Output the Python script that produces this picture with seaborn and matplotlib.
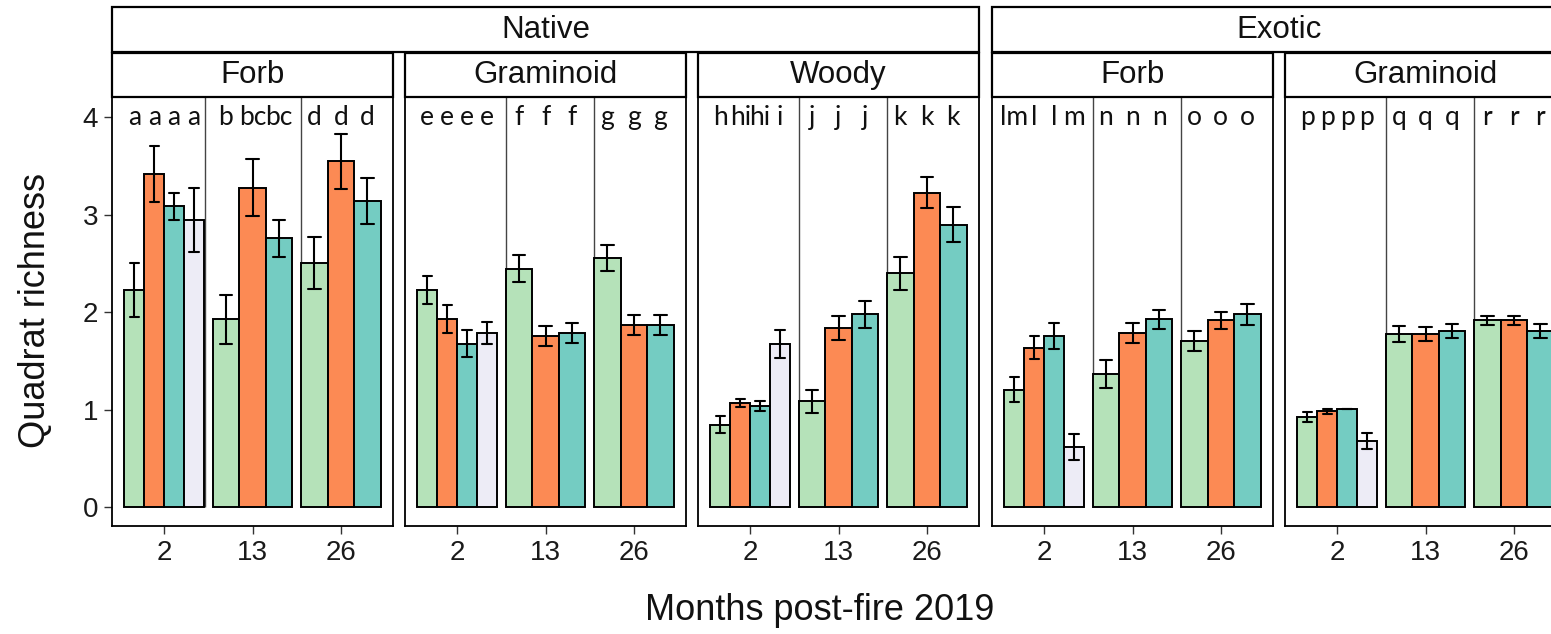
import numpy as np
import pandas as pd
import matplotlib
matplotlib.use("Agg")
import matplotlib.pyplot as plt
from matplotlib.patches import Rectangle
import seaborn as sns

sns.set_theme(style="white")
plt.rcParams['font.family'] = ['Liberation Sans', 'DejaVu Sans']

# ---------------- data ----------------
months = ["2", "13", "26"]
treatments = ["Trt A", "Trt B", "Trt C", "Trt D"]
colors = ["#B5E2B9", "#FC8A54", "#74CCC2", "#EDECF6"]

origins = ["Native", "Exotic"]
panel_origin = ["Native", "Native", "Native", "Exotic", "Exotic"]
panel_form = ["Forb", "Graminoid", "Woody", "Forb", "Graminoid"]

native_forb_mean = [[2.23, 3.42, 3.09, 2.95], [1.93, 3.28, 2.76], [2.51, 3.55, 3.14]]
native_forb_se = [[0.28, 0.285, 0.14, 0.33], [0.25, 0.29, 0.19], [0.265, 0.285, 0.235]]
native_forb_letters = [["a", "a", "a", "a"], ["b", "bc", "bc"], ["d", "d", "d"]]

native_gram_mean = [[2.23, 1.93, 1.68, 1.79], [2.45, 1.76, 1.79], [2.56, 1.87, 1.87]]
native_gram_se = [[0.145, 0.145, 0.14, 0.11], [0.135, 0.105, 0.10], [0.13, 0.105, 0.10]]
native_gram_letters = [["e", "e", "e", "e"], ["f", "f", "f"], ["g", "g", "g"]]

native_woody_mean = [[0.85, 1.07, 1.04, 1.68], [1.09, 1.84, 1.98], [2.40, 3.23, 2.90]]
native_woody_se = [[0.09, 0.04, 0.05, 0.145], [0.12, 0.125, 0.14], [0.17, 0.16, 0.18]]
native_woody_letters = [["h", "hi", "hi", "i"], ["j", "j", "j"], ["k", "k", "k"]]

exotic_forb_mean = [[1.21, 1.64, 1.76, 0.62], [1.37, 1.79, 1.93], [1.71, 1.92, 1.98]]
exotic_forb_se = [[0.13, 0.115, 0.13, 0.13], [0.14, 0.10, 0.10], [0.105, 0.085, 0.11]]
exotic_forb_letters = [["lm", "l", "l", "m"], ["n", "n", "n"], ["o", "o", "o"]]

exotic_gram_mean = [[0.93, 0.985, 1.01, 0.68], [1.78, 1.78, 1.81], [1.92, 1.92, 1.81]]
exotic_gram_se = [[0.05, 0.025, 0.0, 0.08], [0.085, 0.07, 0.07], [0.045, 0.045, 0.075]]
exotic_gram_letters = [["p", "p", "p", "p"], ["q", "q", "q"], ["r", "r", "r"]]

panel_means = [native_forb_mean, native_gram_mean, native_woody_mean, exotic_forb_mean, exotic_gram_mean]
panel_ses = [native_forb_se, native_gram_se, native_woody_se, exotic_forb_se, exotic_gram_se]
panel_letters = [native_forb_letters, native_gram_letters, native_woody_letters,
                 exotic_forb_letters, exotic_gram_letters]

yticks = [0, 1, 2, 3, 4]

# ---------------- figure ----------------
W, H = 1551, 634
fig = plt.figure(figsize=(W / 100, H / 100), dpi=100)

panel_left_px = [112, 405, 698, 992, 1285]
panel_w_px = 281
top_px, bot_px = 97, 526
ax_bottom = (H - bot_px) / H
ax_height = (bot_px - top_px) / H

palette = dict(zip(treatments, colors))
group_w = 0.9
sep_pos = [[0.46, 1.55], [0.55, 1.55], [0.55, 1.55], [0.55, 1.55], [0.55, 1.55]]

axes = []
for p in range(5):
    ax = fig.add_axes([panel_left_px[p] / W, ax_bottom, panel_w_px / W, ax_height])
    axes.append(ax)
    for m in range(3):
        means = panel_means[p][m]
        ses = panel_ses[p][m]
        present = treatments[:len(means)]
        rows = []
        for t, mu, se in zip(present, means, ses):
            rows.append({"pos": float(m), "treatment": t, "value": mu - se})
            rows.append({"pos": float(m), "treatment": t, "value": mu + se})
        df = pd.DataFrame(rows)
        sns.barplot(data=df, x="pos", y="value", hue="treatment", hue_order=present,
                    palette=palette, native_scale=True, width=group_w, orient="x",
                    estimator="mean", errorbar=("pi", 100), capsize=0.42,
                    saturation=1, edgecolor="black", linewidth=1.4,
                    err_kws={"color": "black", "linewidth": 1.5},
                    legend=False, ax=ax)
        # significance letters
        n = len(means)
        bw = group_w / n
        for i, lab in enumerate(panel_letters[p][m]):
            xc = m - group_w / 2 + bw * (i + 0.5)
            ax.text(xc, 3.92, lab, ha="center", va="baseline", fontsize=19,
                    family=["Lato", "DejaVu Sans"], color="#111111")
    ylo, yhi = -0.19, 4.21
    for s in sep_pos[p]:
        ax.vlines(s, 0, yhi, colors="#444444", linewidth=1.0, zorder=0.5)
    ax.set_xlim(-0.59, 2.59)
    ax.set_ylim(ylo, yhi)
    ax.set_xticks([0, 1, 2])
    ax.set_xticklabels(months)
    ax.set_xlabel("")
    ax.set_ylabel("")
    ax.tick_params(axis="x", length=6, width=1.0, color="#333333", labelsize=20,
                   labelcolor="#1a1a1a", pad=4, bottom=True)
    if p == 0:
        ax.set_yticks(yticks)
        ax.set_yticklabels([str(v) for v in yticks])
        ax.tick_params(axis="y", length=6, width=1.0, color="#333333", labelsize=20,
                       labelcolor="#1a1a1a", pad=4, left=True)
    else:
        ax.set_yticks([])
    for sp in ax.spines.values():
        sp.set_visible(True)
        sp.set_color("black")
        sp.set_linewidth(1.3)

# ---------------- strips ----------------
def strip(x0_px, x1_px, y0_px, y1_px, label):
    rect = Rectangle((x0_px / W, (H - y1_px) / H), (x1_px - x0_px) / W, (y1_px - y0_px) / H,
                     transform=fig.transFigure, facecolor="white", edgecolor="black",
                     linewidth=1.6, clip_on=False)
    fig.add_artist(rect)
    fig.text((x0_px + x1_px) / 2 / W, (H - (y0_px + y1_px) / 2) / H, label,
             ha="center", va="center", fontsize=22.5, color="#111111")

for p in range(5):
    strip(panel_left_px[p], panel_left_px[p] + panel_w_px, 53, 97, panel_form[p])

strip(panel_left_px[0], panel_left_px[2] + panel_w_px, 7, 52, "Native")
strip(panel_left_px[3], panel_left_px[4] + panel_w_px, 7, 52, "Exotic")

# ---------------- axis titles ----------------
fig.text(36 / W, (H - 311) / H, "Quadrat richness", rotation=90, ha="center", va="center",
         fontsize=26, color="#111111")
fig.text(820 / W, (H - 610) / H, "Months post-fire 2019", ha="center", va="center",
         fontsize=26, color="#111111")

fig.savefig("out.png", dpi=100)
